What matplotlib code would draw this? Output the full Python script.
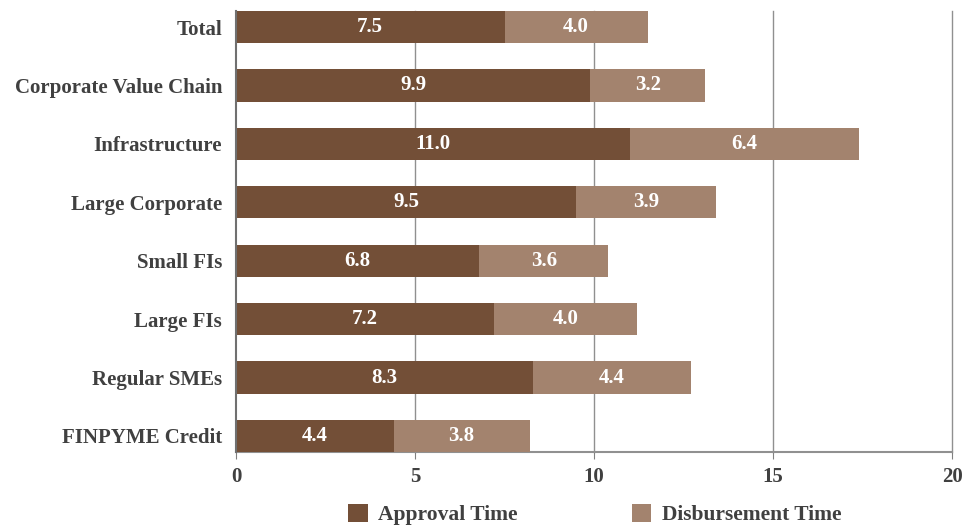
import numpy as np
import matplotlib.pyplot as plt

categories = ["Total", "Corporate Value Chain", "Infrastructure", "Large Corporate",
              "Small FIs", "Large FIs", "Regular SMEs", "FINPYME Credit"]
approval = [7.5, 9.9, 11.0, 9.5, 6.8, 7.2, 8.3, 4.4]
disbursement = [4.0, 3.2, 6.4, 3.9, 3.6, 4.0, 4.4, 3.8]
ticks = [0, 5, 10, 15, 20]

dark = "#734F37"
light = "#A3836E"
txt = "#404040"

plt.rcParams['font.family'] = ['Liberation Serif', 'DejaVu Serif']
plt.rcParams['font.weight'] = 'bold'

fig = plt.figure(figsize=(9.74, 5.25), dpi=100)
ax = fig.add_axes([236/974, 1 - 452/525, (952 - 236)/974, (452 - 11)/525])

# vertical grid drawn by hand so the bars sit on top of it
for t in ticks[1:]:
    ax.axvline(t, color='#909090', linewidth=1, zorder=1, clip_on=False)

y = np.arange(len(categories))
h = 0.55
b1 = ax.barh(y, approval, height=h, color=dark, label="Approval Time", zorder=5)
b2 = ax.barh(y, disbursement, left=approval, height=h, color=light,
             label="Disbursement Time", zorder=5)

for i in range(len(categories)):
    ax.text(approval[i] / 2, y[i], f"{approval[i]:.1f}", ha='center', va='center',
            color='white', fontsize=15, fontweight='bold', zorder=6)
    ax.text(approval[i] + disbursement[i] / 2, y[i], f"{disbursement[i]:.1f}",
            ha='center', va='center', color='white', fontsize=15,
            fontweight='bold', zorder=6)

ax.set_xlim(0, 20)
ax.set_ylim(len(categories) - 1 + h / 2, -h / 2)
ax.set_xticks(ticks)
ax.set_yticks(y)
ax.set_yticklabels(categories)
ax.tick_params(axis='y', length=0, pad=10, labelsize=15, labelcolor=txt)
ax.tick_params(axis='x', length=5, color='#808080', pad=6, labelsize=15, labelcolor=txt)

for s in ['top', 'right']:
    ax.spines[s].set_visible(False)
ax.spines['left'].set_color('#707070')
ax.spines['left'].set_linewidth(1.5)
ax.spines['left'].set_zorder(7)
ax.spines['bottom'].set_color('#909090')
ax.spines['bottom'].set_linewidth(1.5)

fig.legend(handles=[b1, b2], loc='lower center', bbox_to_anchor=(595/974, -0.037),
           ncol=2, frameon=False, fontsize=15.5, handlelength=0.9, handleheight=0.9,
           columnspacing=5.3, handletextpad=0.5, labelcolor=txt)

fig.savefig("out.png", dpi=100)
